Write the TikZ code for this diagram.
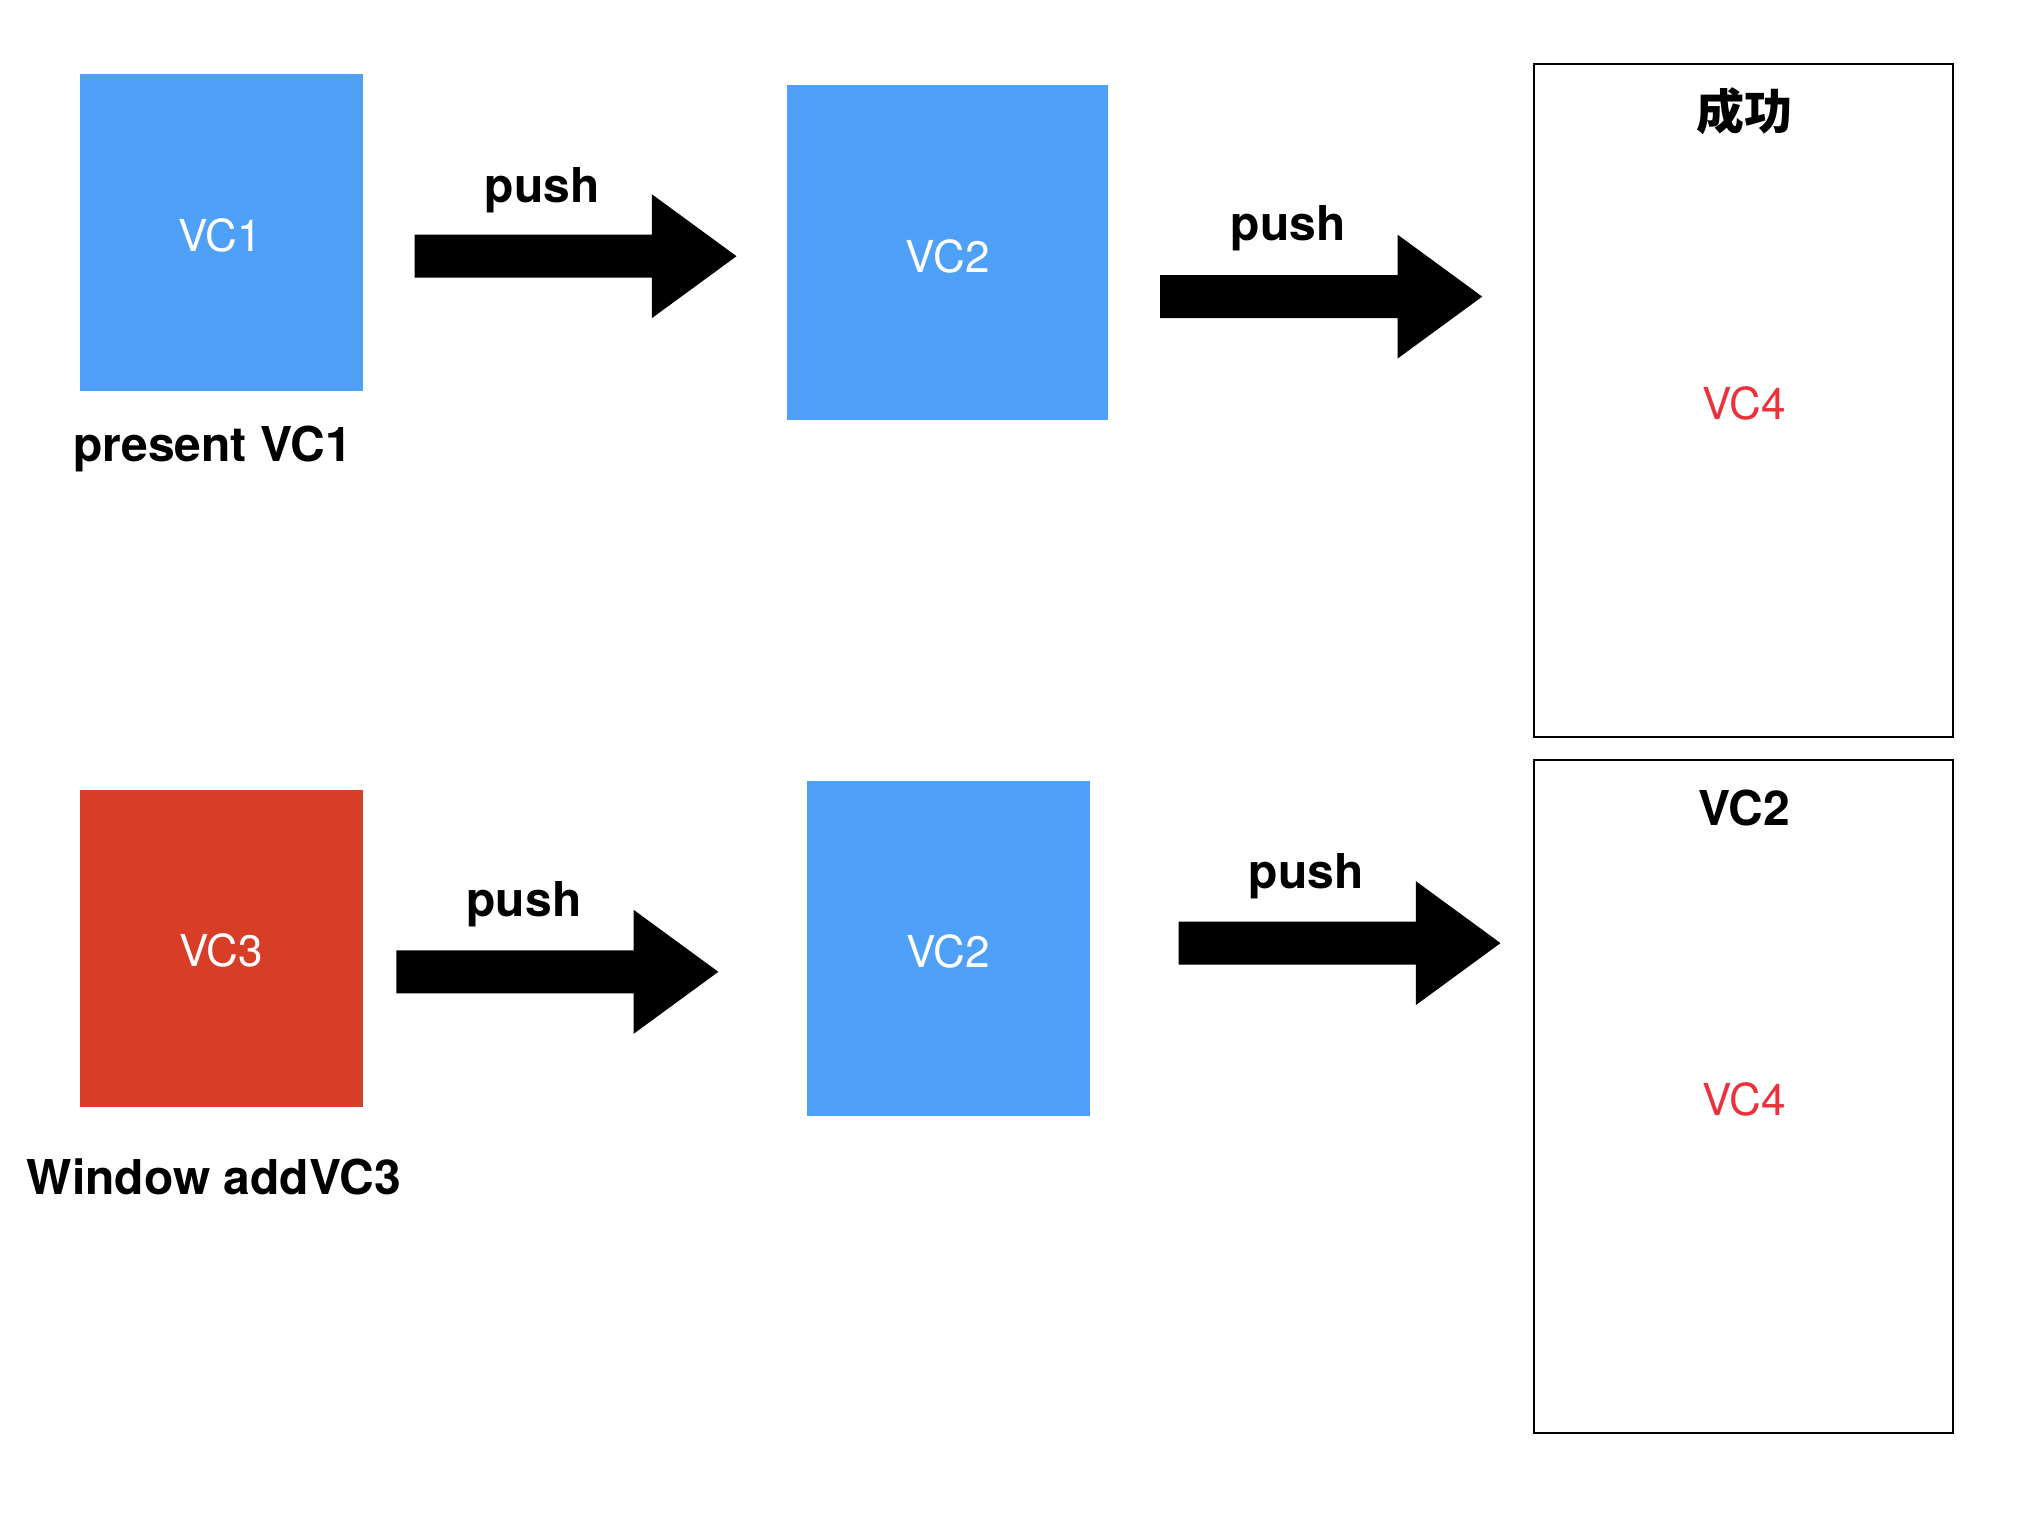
\documentclass[tikz,border=0pt]{standalone}
\usepackage{fontspec}
\setmainfont{TeX Gyre Heros}
\newfontfamily\cjk{Noto Sans CJK SC}
\definecolor{vcblue}{RGB}{79,160,247}
\definecolor{vcred}{RGB}{216,61,39}
\definecolor{vcfour}{RGB}{235,50,60}
\begin{document}
\begin{tikzpicture}[x=1pt,y=-1pt,
  vcbox/.style={fill=vcblue,draw=none,inner sep=0pt,text=white,font=\fontsize{44}{50}\selectfont},
  screen/.style={draw=black,line width=2pt,fill=white,inner sep=0pt},
  lbl/.style={font=\fontsize{48}{54}\selectfont\bfseries,inner sep=0pt},
  redtxt/.style={text=vcfour,font=\fontsize{44}{50}\selectfont,inner sep=0pt},
  blockarrow/.style={fill=black,draw=none}]
\useasboundingbox (0,0) rectangle (2044,1532);
% top row
\node[vcbox,minimum width=283pt,minimum height=317pt] (vc1) at (221,232.7) {};
\node[text=white,font=\fontsize{44}{50}\selectfont,inner sep=0pt] (t1) at (220,235.5) {VC1};
\node[lbl] (lpres) at (212.5,448.5) {present VC1};
\node[vcbox,minimum width=320.7pt,minimum height=335pt] (vc2a) at (947.7,252.2) {};
\node[text=white,font=\fontsize{44}{50}\selectfont,inner sep=0pt] (t2) at (947.7,256) {VC2};
\node[screen,minimum width=418.5pt,minimum height=672.6pt] (scra) at (1743.5,400.2) {};
\node[font=\cjk\fontsize{48}{54}\selectfont\bfseries,inner sep=0pt] (cg) at (1744.2,111) {成功};
\node[redtxt] (vc4a) at (1744.2,403) {VC4};
% bottom row
\node[vcbox,fill=vcred,minimum width=283pt,minimum height=317pt] (vc3) at (221,948.4) {};
\node[text=white,font=\fontsize{44}{50}\selectfont,inner sep=0pt] (t3) at (221,950) {VC3};
\node[lbl] (lwin) at (213.8,1177.2) {Window addVC3};
\node[vcbox,minimum width=282.9pt,minimum height=335pt] (vc2b) at (948.3,948.4) {};
\node[text=white,font=\fontsize{44}{50}\selectfont,inner sep=0pt] (t4) at (948.3,951) {VC2};
\node[screen,minimum width=418.5pt,minimum height=672.6pt] (scrb) at (1743.5,1096.3) {};
\node[lbl] (vc2c) at (1744.2,808.2) {VC2};
\node[redtxt] (vc4b) at (1744.2,1099) {VC4};
% arrows
\coordinate (a1) at (414.5,256.2);
\coordinate (a2) at (1160.2,296.6);
\coordinate (a3) at (396.3,971.8);
\coordinate (a4) at (1178.5,943.1);
\foreach \c in {a1,a2,a3,a4}{
  \fill[blockarrow] (\c) ++(0,-21.5) -- ++(237.3,0) -- ++(0,-40.5) -- ++(84.7,62) -- ++(-84.7,62) -- ++(0,-40.5) -- ++(-237.3,0) -- cycle;
}
\node[lbl] (p1) at (542.3,190) {push};
\node[lbl] (p2) at (1288,228) {push};
\node[lbl] (p3) at (524,904) {push};
\node[lbl] (p4) at (1306.2,876) {push};
\end{tikzpicture}
\end{document}
